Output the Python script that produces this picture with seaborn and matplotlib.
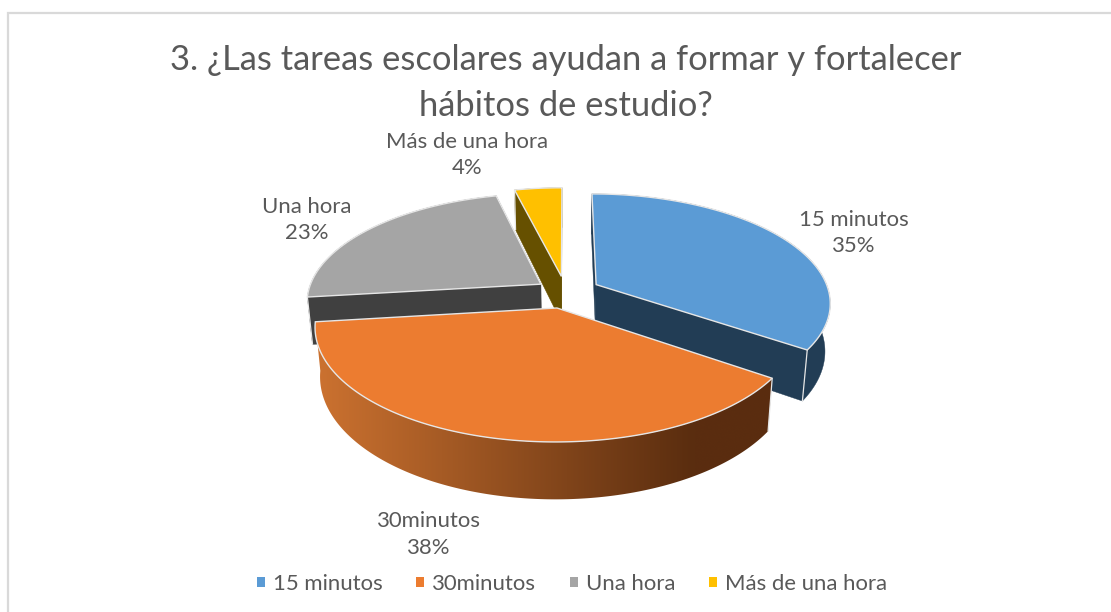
import numpy as np
import matplotlib
matplotlib.use("Agg")
import matplotlib.pyplot as plt
from matplotlib.patches import Patch, Polygon
from matplotlib.colors import to_rgb
import seaborn as sns

# ---- data ----
categories = ["15 minutos", "30minutos", "Una hora", "Más de una hora"]
answers = [9, 10, 6, 1]
title_text = "3. ¿Las tareas escolares ayudan a formar y fortalecer\nhábitos de estudio?"

# ---- style ----
top_colors = ["#5B9BD5", "#EC7C30", "#A5A5A5", "#FFC000"]
wall_colors = ["#223D55", None, "#404040", "#665000"]
grad_left, grad_right = "#CC7230", "#5A2D0F"
text_color = "#595959"
edge_color = "#E6E6E6"
frame_color = "#D9D9D9"
explode = [0.15, 0.15, 0.13, 0.15]

sns.set_theme(style="white")
plt.rcParams["font.family"] = ["Lato", "DejaVu Sans"]
palette = sns.color_palette(top_colors)

# projection of the tilted disc to pixels
CX, CY, SX, SY, K, DEPTH, SHRINK = 565.5, 292, 233, 107.2, 0.158, 47, 0.98


def project(u, v, bottom=False):
    w = 1 + K * v
    x = SX * u / w
    y = SY * v / w
    if bottom:
        return CX + x * SHRINK, CY - y + DEPTH / w
    return CX + x, CY - y


fig = plt.figure(figsize=(11.11, 6.12), dpi=100)
ax = fig.add_axes([0, 0, 1, 1])
ax.axis("off")

# chart frame (left + top edges only reach the crop)
ax.plot([8, 8, 1111], [612, 13, 13], color=frame_color, lw=1.6, solid_joinstyle="miter")

fractions = np.array(answers, dtype=float) / np.sum(answers)
edges = np.concatenate([[0], np.cumsum(fractions)]) * 2 * np.pi
slices = list(zip(edges[:-1], edges[1:]))
order = [3, 2, 0, 1]

for z, i in enumerate(order):
    a0, a1 = slices[i]
    mid = (a0 + a1) / 2
    ou, ov = explode[i] * np.sin(mid), explode[i] * np.cos(mid)
    th = np.linspace(a0, a1, 200)
    ru, rv = ou + np.sin(th), ov + np.cos(th)
    tx, ty = project(ru, rv)
    bx, by = project(ru, rv, True)
    ax0, ay0 = project(np.array([ou]), np.array([ov]))
    bx0, by0 = project(np.array([ou]), np.array([ov]), True)
    base = 10 + z * 5
    start_face = ([ax0[0], tx[0], bx[0], bx0[0]], [ay0[0], ty[0], by[0], by0[0]])
    end_face = ([ax0[0], tx[-1], bx[-1], bx0[0]], [ay0[0], ty[-1], by[-1], by0[0]])
    front = []
    back = []
    (front if np.sin(a0) < -1e-6 else back).append(start_face)
    (front if -np.sin(a1) < -1e-6 else back).append(end_face)
    wc = wall_colors[i]
    if wc is not None:
        for fx, fy in back:
            ax.fill(fx, fy, facecolor=wc, edgecolor=wc, linewidth=0.3, zorder=base)
        ax.fill(np.r_[tx, bx[::-1]], np.r_[ty, by[::-1]], facecolor=wc, edgecolor=wc,
                linewidth=0.3, zorder=base)
        for fx, fy in front:
            ax.fill(fx, fy, facecolor=wc, edgecolor=wc, linewidth=0.3, zorder=base)
        k = -1 if np.sin(a0) >= 0 else 0
        ax.plot([tx[k], bx[k]], [ty[k], by[k]], color=edge_color, lw=0.9, zorder=base)
    else:
        c0, c1 = np.array(to_rgb(grad_left)), np.array(to_rgb(grad_right))
        lo, hi = bx.min(), bx.max()
        ramp = np.clip(np.linspace(0, 1, 256) / 0.82, 0, 1)[None, :, None]
        img = c0[None, None, :] + (c1 - c0)[None, None, :] * ramp
        clip = Polygon(np.c_[np.r_[tx, bx[::-1]], np.r_[ty, by[::-1]]], closed=True,
                       transform=ax.transData, facecolor="none", edgecolor="none")
        ax.add_patch(clip)
        im = ax.imshow(img, extent=[lo - 5, hi + 8, by.max() + 2, ty.min() - 2], aspect="auto",
                       zorder=base, interpolation="bilinear")
        im.set_clip_path(clip)
        ax.plot([tx[0], bx[0]], [ty[0], by[0]], color=edge_color, lw=0.9, zorder=base + 0.5)
    ax.fill(np.r_[ax0, tx], np.r_[ay0, ty], facecolor=palette[i], edgecolor=edge_color,
            linewidth=1.0, zorder=base + 1)

ax.set_xlim(0, 1111)
ax.set_ylim(612, 0)
ax.set_aspect("auto")

# labels
label_pos = [(854, 233), (429, 534.5), (307, 220), (467, 155)]
percent = [round(100 * f) for f in fractions]
for name, p, (lx, ly) in zip(categories, percent, label_pos):
    ax.text(lx, ly, f"{name}\n{p}%", ha="center", va="center", color=text_color,
            fontsize=15.9, linespacing=1.4, zorder=50)

ax.text(566, 83, title_text, ha="center", va="center", color=text_color, fontsize=24.8,
        linespacing=1.5, zorder=50)

handles = [Patch(facecolor=c, edgecolor="none", label=n) for c, n in zip(palette, categories)]
ax.legend(handles=handles, ncol=4, loc="center", bbox_to_anchor=(572 / 1111, 1 - 584 / 612),
          frameon=False, fontsize=15.9, labelcolor=text_color, handlelength=0.36, handleheight=0.36,
          handletextpad=0.36, columnspacing=1.53, borderpad=0)

fig.savefig("out.png", dpi=100)
